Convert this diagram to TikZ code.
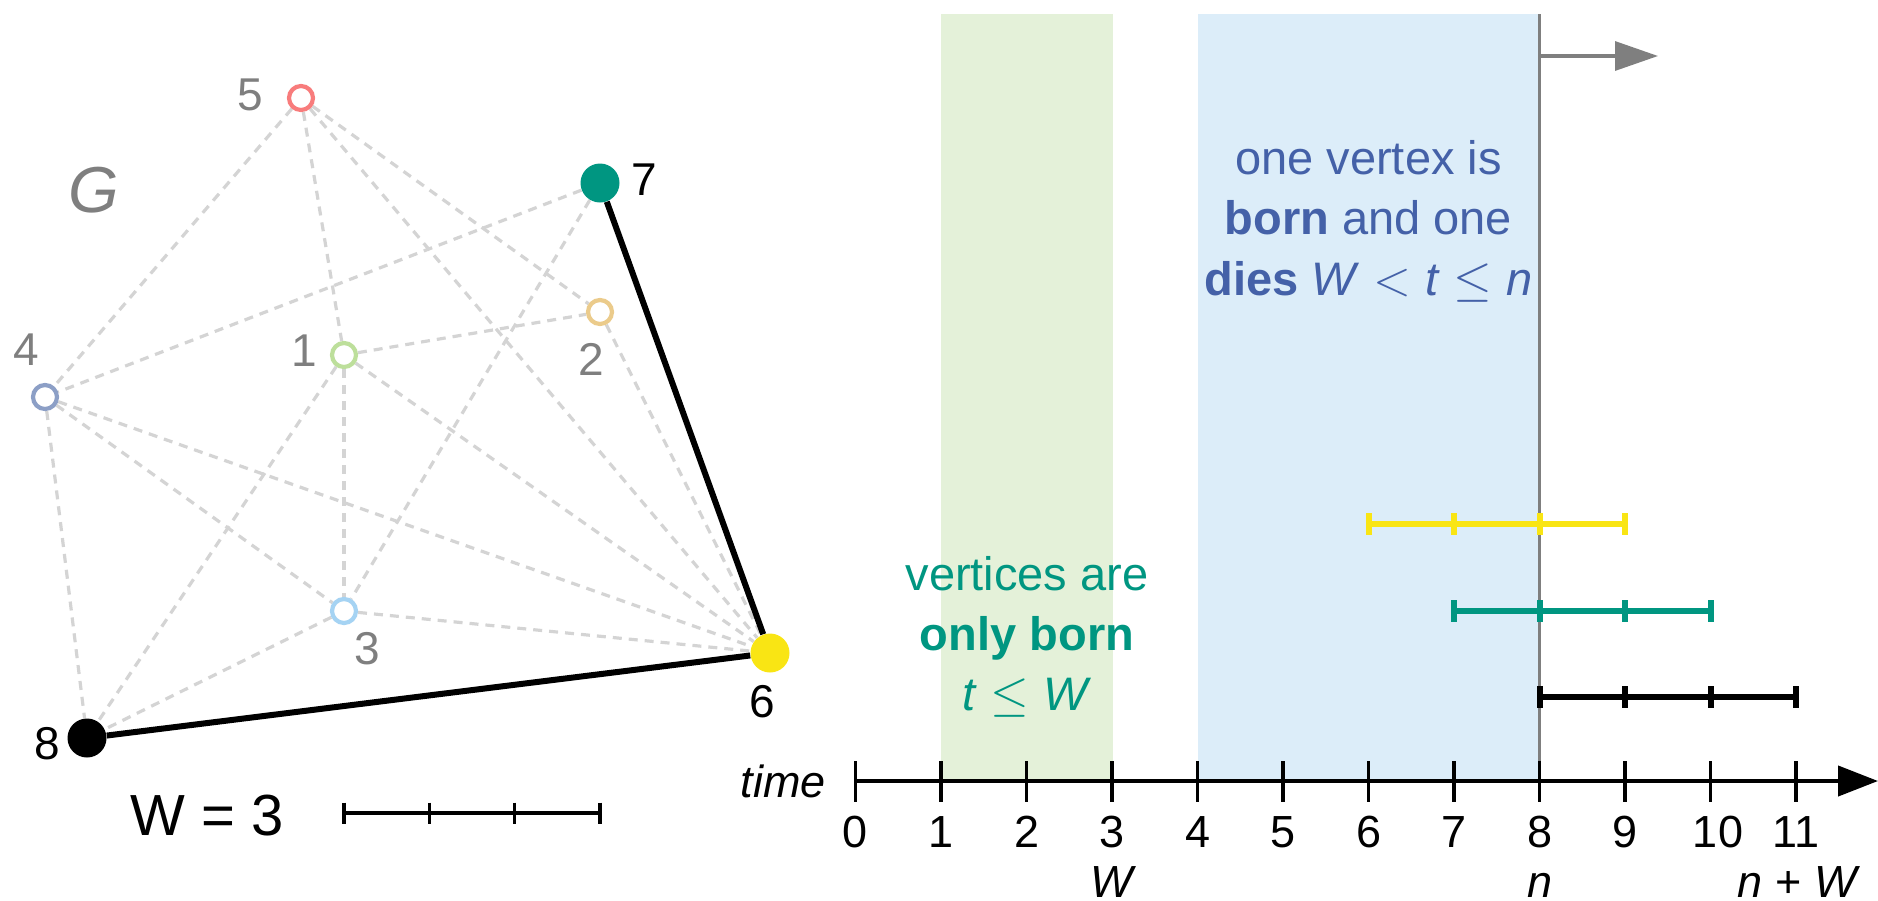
\documentclass[tikz,border=0pt]{standalone}
\usepackage{fontspec}
\setmainfont{Liberation Sans}
\usetikzlibrary{arrows.meta}
\definecolor{dashgray}{HTML}{D4D4D4}
\definecolor{labgray}{HTML}{7F7F7F}
\definecolor{cfive}{HTML}{F87C7C}
\definecolor{ctwo}{HTML}{EBCB8B}
\definecolor{cone}{HTML}{BDDF9B}
\definecolor{cfour}{HTML}{8C9FC6}
\definecolor{cthree}{HTML}{A5D3F3}
\definecolor{tealc}{HTML}{009681}
\definecolor{yellowc}{HTML}{F9E514}
\definecolor{bandgreen}{HTML}{E4F1D9}
\definecolor{bandblue}{HTML}{DCEDF9}
\definecolor{textblue}{HTML}{4461A8}
\pgfdeclarelayer{bg}
\pgfsetlayers{bg,main}
\begin{document}
\begin{tikzpicture}[x=0.5pt,y=-0.5pt,
  ghost/.style={draw=dashgray, line width=1.6pt, dash pattern=on 4.5pt off 3.5pt},
  solidedge/.style={draw=black, line width=3pt},
  openv/.style={circle, draw=#1, fill=white, line width=2.1pt, minimum size=12pt, inner sep=0pt},
  fullv/.style={circle, fill=#1, minimum size=19.5pt, inner sep=0pt},
  vlbl/.style={anchor=base, inner sep=0pt, font=\fontsize{23}{27}\selectfont},
  ticklbl/.style={anchor=base, inner sep=0pt, font=\fontsize{22.5}{27}\selectfont},
  bandtxt/.style={anchor=base, inner sep=0pt, font=\fontsize{23.5}{28}\selectfont},
  tickline/.style={line width=1.6pt},
]
\useasboundingbox (0,0) rectangle (1878,900);

% ---------------- graph ----------------
\node[openv=cfive]  (n5) at (301,98) {};
\node[fullv=tealc]  (n7) at (600,183) {};
\node[openv=ctwo]   (n2) at (600,312) {};
\node[openv=cone]   (n1) at (344,355) {};
\node[openv=cfour]  (n4) at (45,397) {};
\node[openv=cthree] (n3) at (344,611) {};
\node[fullv=yellowc](n6) at (770,653) {};
\node[fullv=black]  (n8) at (87,738) {};

\begin{pgfonlayer}{bg}
\fill[bandgreen] (941,14) rectangle (1112.5,781);
\fill[bandblue] (1197.5,14) rectangle (1539.5,781);
\foreach \a/\b in {n5/n4,n5/n1,n5/n2,n5/n6,n7/n4,n7/n3,n4/n8,n4/n3,n4/n6,
                   n1/n2,n1/n3,n1/n8,n1/n6,n2/n6,n3/n8,n3/n6}
  \draw[ghost] (\a) -- (\b);
\draw[solidedge] (n7) -- (n6);
\draw[solidedge] (n8) -- (n6);
\end{pgfonlayer}

\node[vlbl, text=labgray] (l5) at (250,110) {5};
\node[vlbl, text=labgray] (l4) at (26,365) {4};
\node[vlbl, text=labgray] (l1) at (304,366) {1};
\node[vlbl, text=labgray] (l2) at (591,375) {2};
\node[vlbl, text=labgray] (l3) at (367,664) {3};
\node[vlbl] (l7) at (644,195) {7};
\node[vlbl] (l6) at (762,717) {6};
\node[vlbl] (l8) at (47,759) {8};
\node[anchor=base, inner sep=0pt, text=labgray, font=\fontsize{32.5}{36}\selectfont\itshape] (G) at (94,212) {G};

% legend
\node[anchor=base, inner sep=0pt, font=\fontsize{29}{33}\selectfont] (Wlbl) at (207,835) {W = 3};
\coordinate (s0) at (344,813);
\coordinate (s3) at (600,813);
\draw[line width=1.6pt] (s0) -- (s3);
\foreach \k in {0,...,3}
  \draw[line width=1.6pt] (344+\k*85.33,802.5) -- (344+\k*85.33,823.5);

% ---------------- timeline ----------------
\draw[labgray, line width=1.5pt] (1539.5,14) -- (1539.5,781);
\coordinate (ga) at (1539.5,56);
\coordinate (gb) at (1658,56);
\draw[labgray, line width=1.6pt, -{Triangle[length=21.5pt,width=14.5pt]}] (ga) -- (gb);

\coordinate (t0) at (855.5,781);
\coordinate (tend) at (1878,781);
\draw[line width=2.1pt, -{Triangle[length=20pt,width=15pt]}] (t0) -- (tend);
\foreach \i in {0,...,11}
  \draw[tickline] (855.5+\i*85.5,761) -- (855.5+\i*85.5,802);
\foreach \i in {0,...,9}
  \node[ticklbl] (tl\i) at (855.5+\i*85.5,847) {\i};
\node[ticklbl] (tl10) at (1718,847) {10};
\node[ticklbl] (tl11) at (1796,847) {11};

\node[anchor=base east, inner sep=0pt, font=\fontsize{22.5}{27}\selectfont\itshape] (time) at (826,797) {time};
\node[ticklbl, font=\fontsize{22.5}{27}\selectfont\itshape] (bW) at (1112,897) {W};
\node[ticklbl, font=\fontsize{22.5}{27}\selectfont\itshape] (bn) at (1539.5,897) {n};
\node[ticklbl, font=\fontsize{22.5}{27}\selectfont] (bnW) at (1799,897) {\textit{n} + \textit{W}};

% intervals
\foreach \a/\c/\y in {6/yellowc/524, 7/tealc/611, 8/black/697} {
  \draw[\c, line width=3.2pt] (855.5+\a*85.5,\y) -- (855.5+\a*85.5+3*85.5,\y);
  \foreach \k in {0,...,3}
    \draw[\c, line width=3pt] (855.5+\a*85.5+\k*85.5,\y-11) -- (855.5+\a*85.5+\k*85.5,\y+11);
}

% band texts
\node[bandtxt, text=tealc] (g1) at (1027,590) {vertices are};
\node[bandtxt, text=tealc] (g2) at (1027,650) {\textbf{only born}};
\node[bandtxt, text=tealc] (g3) at (1027,710) {\textit{t}$\;\leq\;$\textit{W}};

\node[bandtxt, text=textblue] (b1) at (1368.5,174) {one vertex is};
\node[bandtxt, text=textblue] (b2) at (1368.5,234) {\textbf{born} and one};
\node[bandtxt, text=textblue] (b3) at (1368.5,295) {\textbf{dies} \textit{W}$\;<\;$\textit{t}$\;\leq\;$\textit{n}};
\end{tikzpicture}
\end{document}
